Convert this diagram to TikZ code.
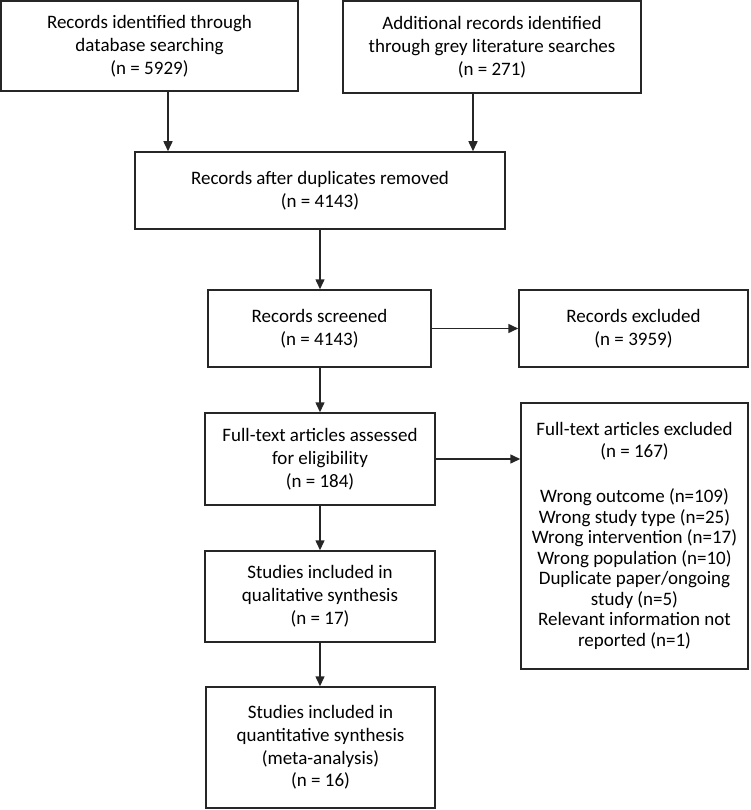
\documentclass[tikz,border=0pt]{standalone}
\usepackage{fontspec}
\setmainfont{Carlito}
\usetikzlibrary{arrows.meta}
\tikzset{
  box/.style={draw=black!85, line width=1.5pt, rectangle, inner sep=0pt, align=center,
    font=\fontsize{19}{22.8}\selectfont, text=black},
  arr/.style={draw=black!85, line width=1.5pt, -{Triangle[length=10pt,width=9pt]}},
}
\begin{document}
\begin{tikzpicture}[x=1pt,y=-1pt]
\useasboundingbox (0,0) rectangle (750,810);
\node[box, minimum width=297pt, minimum height=90pt] (b1) at (149.5,46)
  {Records identified through\\database searching\\(n = 5929)};
\node[box, minimum width=298pt, minimum height=92pt] (b2) at (492,47)
  {Additional records identified\\through grey literature searches\\(n = 271)};
\node[box, minimum width=370pt, minimum height=77pt] (b3) at (320,190.5)
  {Records after duplicates removed\\(n = 4143)};
\node[box, minimum width=223pt, minimum height=77pt] (b4) at (319.5,328.5)
  {Records screened\\(n = 4143)};
\node[box, minimum width=229pt, minimum height=77pt] (b5) at (633.5,328.5)
  {Records excluded\\(n = 3959)};
\node[box, minimum width=230pt, minimum height=92pt] (b6) at (320,459)
  {Full-text articles assessed\\for eligibility\\(n = 184)};
\node[box, minimum width=227pt, minimum height=266pt, font=\fontsize{19}{20.5}\selectfont] (b7) at (634.5,536)
  {Full-text articles excluded\\[1.5pt](n = 167)\\[24.5pt]Wrong outcome (n=109)\\Wrong study type (n=25)\\Wrong intervention (n=17)\\Wrong population (n=10)\\Duplicate paper/ongoing\\study (n=5)\\Relevant information not\\reported (n=1)};
\node[box, minimum width=230pt, minimum height=91pt] (b8) at (320,596.5)
  {Studies included in\\qualitative synthesis\\(n = 17)};
\node[box, minimum width=229pt, minimum height=121pt] (b9) at (320.5,747.5)
  {Studies included in\\quantitative synthesis\\(meta-analysis)\\(n = 16)};
\coordinate (a1) at (168,0);
\coordinate (a2) at (473,0);
\draw[arr] (b1.south -| a1) -- (b3.north -| a1);
\draw[arr] (b2.south -| a2) -- (b3.north -| a2);
\draw[arr] (b3.south) -- (b4.north -| b3.south);
\draw[arr] (b4.east) -- (b5.west);
\draw[arr] (b4.south -| b3.south) -- (b6.north);
\draw[arr] (b6.east) -- (b6.east -| b7.west);
\draw[arr] (b6.south) -- (b8.north);
\draw[arr] (b8.south) -- (b9.north -| b8.south);
\end{tikzpicture}
\end{document}
